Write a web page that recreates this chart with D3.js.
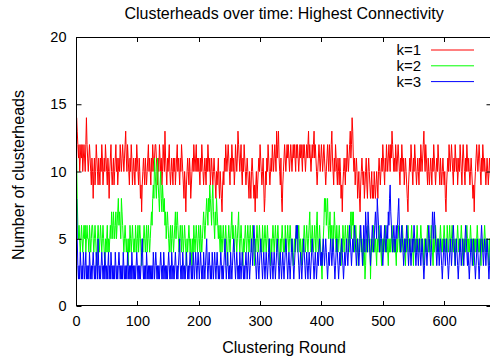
<!DOCTYPE html>
<html>
<head>
<meta charset="utf-8">
<script src="https://cdn.jsdelivr.net/npm/d3@7"></script>
<style>
  body { margin: 0; background: #fff; }
  text { font-family: "Liberation Sans", Arial, sans-serif; fill: #000; }
</style>
</head>
<body>
<svg id="chart" width="490" height="360"></svg>
<script>
// values, one per clustering round
const k1 = [
  9,14,13,12,11,12,10,11,12,11,12,10,11,12,11,10,12,14,12,11,10,11,12,11,10,9,11,10,8,10,11,9,10,12,11,10,9,11,10,9,
  11,10,12,11,9,10,11,10,12,11,10,9,11,10,8,10,11,12,10,9,10,11,9,10,11,12,10,11,9,10,11,10,12,11,10,11,12,11,10,11,
  12,13,11,10,12,11,10,9,11,10,12,11,9,10,11,10,9,11,10,12,11,10,9,11,10,8,9,7,9,10,11,10,9,11,10,9,10,11,12,10,
  11,10,9,11,10,12,11,10,11,12,12,11,10,9,11,10,12,11,10,11,9,10,12,11,10,13,11,10,9,11,10,11,12,10,9,10,11,10,9,11,
  10,11,9,10,11,12,10,11,10,9,11,10,12,11,10,9,8,10,9,7,9,10,11,10,9,11,10,8,9,10,11,10,12,11,10,11,12,10,11,10,
  11,10,9,11,10,12,11,10,9,10,11,10,9,11,10,12,11,10,11,9,10,11,10,9,10,11,10,9,8,10,9,10,11,9,8,10,9,8,7,9,
  10,9,11,10,12,11,10,11,12,11,10,9,11,10,12,11,10,11,9,10,12,11,10,11,13,12,11,10,11,12,10,9,11,10,12,11,10,9,10,11,
  10,9,8,10,9,8,10,11,10,9,8,9,7,9,10,8,9,10,11,10,12,11,10,9,10,11,9,7,8,10,9,11,10,12,11,10,9,10,11,10,
  12,11,10,11,12,11,10,13,11,12,13,11,10,9,11,8,7,9,10,11,12,11,10,11,12,11,12,11,10,11,12,11,10,11,12,11,12,11,10,12,
  11,12,11,10,11,12,11,12,11,10,12,11,12,11,10,11,12,11,12,13,11,12,11,10,11,12,11,12,13,11,12,11,10,9,10,11,12,11,10,11,
  12,11,10,11,12,11,10,9,10,11,12,11,10,12,11,10,12,13,11,10,9,11,10,12,11,10,9,11,10,9,11,10,8,9,7,9,10,11,10,9,
  11,10,12,11,10,11,12,13,11,12,14,13,11,10,11,9,10,11,10,8,9,10,8,7,9,10,11,10,9,10,8,9,10,11,9,8,10,11,10,9,
  8,9,10,8,9,8,10,9,8,9,10,9,8,10,11,10,9,10,11,10,12,11,10,9,11,10,12,11,10,11,12,11,10,12,11,13,12,11,10,11,
  10,12,11,10,11,12,11,10,9,11,10,12,11,10,11,9,10,11,10,9,8,7,9,10,11,10,12,11,10,9,11,10,12,11,10,9,10,11,10,9,
  11,10,12,11,10,11,12,13,11,10,12,11,10,9,11,10,9,10,11,10,9,11,10,12,11,10,9,10,11,10,12,11,10,9,11,10,9,10,11,10,
  9,10,8,7,9,10,11,10,12,11,10,11,12,11,10,9,11,10,12,11,10,11,9,10,11,10,12,11,10,9,11,12,11,10,9,11,10,12,11,10,
  11,10,9,10,11,10,9,8,9,7,9,10,11,12,11,10,11,12,11,10,9,11,10,12,11,10,11,10,9,10,11,10,9,10,11,10,9,10,11,10
];
const k2 = [
  6,11,8,6,5,6,5,4,5,6,5,4,5,6,5,6,4,5,6,5,5,4,6,5,4,5,6,6,5,4,5,6,5,4,3,5,6,5,4,5,
  6,5,4,5,6,5,4,3,5,4,5,6,4,5,4,5,6,5,7,6,5,7,6,5,6,7,5,6,7,8,6,7,6,5,8,7,6,5,4,5,
  6,5,4,5,4,3,5,4,6,5,4,5,6,5,4,5,4,6,5,4,5,6,4,5,6,5,4,3,5,4,5,6,5,4,5,6,4,5,6,5,
  4,5,6,7,6,8,9,8,11,10,9,8,10,11,9,8,7,9,10,8,7,9,8,7,8,6,7,5,6,7,6,5,4,5,6,4,5,6,5,4,
  5,6,7,5,6,7,6,5,4,5,6,5,4,6,5,4,5,6,5,4,3,5,4,5,6,5,4,5,4,3,5,4,6,5,4,5,6,5,4,5,
  6,5,4,6,5,4,5,6,7,6,5,6,7,8,7,6,8,7,9,8,7,6,8,9,7,6,5,7,6,8,7,6,5,6,5,4,6,5,4,5,
  6,5,4,5,6,5,4,3,5,6,5,4,5,6,7,5,6,5,4,5,6,5,4,5,6,7,5,4,5,6,5,4,3,5,4,5,6,5,4,5,
  6,5,4,5,6,5,4,5,6,5,4,3,5,4,5,6,5,4,5,6,5,4,5,4,6,5,4,5,6,5,4,5,6,5,4,5,4,3,5,4,
  5,6,5,4,5,6,5,4,5,6,5,4,3,5,4,5,6,5,4,5,4,6,5,4,5,6,5,4,5,6,5,4,5,4,3,4,5,4,5,6,
  5,4,5,6,5,4,5,4,3,5,4,5,6,5,4,5,6,5,4,5,6,7,5,4,5,6,5,4,5,6,5,4,6,7,5,4,5,6,5,4,
  3,2,4,5,6,8,7,8,6,7,8,6,5,6,7,5,6,5,4,6,5,7,6,5,4,6,5,4,5,6,5,4,3,5,4,6,5,4,5,6,
  5,4,5,6,5,4,5,6,7,5,7,6,7,5,4,5,6,5,4,5,3,4,5,6,5,4,5,4,3,5,4,2,3,5,4,5,6,5,4,5,
  2,4,5,4,5,6,5,4,5,4,3,5,4,5,6,4,5,4,3,5,4,5,4,5,6,5,4,5,4,3,5,4,5,4,5,6,5,4,5,4,
  5,4,3,5,4,5,6,5,4,5,4,5,6,5,4,5,4,3,5,4,5,6,5,4,5,4,5,6,5,4,3,5,4,5,4,5,6,5,4,5,
  4,5,6,5,4,5,4,3,5,4,5,4,5,6,5,4,5,4,5,6,5,4,3,5,4,5,6,5,4,5,4,5,4,5,6,5,4,5,4,5,
  6,5,4,5,4,6,5,4,5,6,5,4,5,6,5,4,5,4,3,5,4,5,6,5,4,5,4,5,6,5,4,3,5,4,5,4,5,6,5,4,
  5,4,5,6,5,4,5,4,3,5,4,5,4,5,6,5,4,5,4,5,3,5,4,5,4,5,6,5,4,5,4,5,4,3,5,4,5,4,5,4
];
const k3 = [
  1,8,5,3,2,3,2,4,3,2,3,2,4,3,2,3,4,2,3,2,3,2,4,3,2,3,2,3,4,3,2,3,2,4,3,2,5,3,2,3,
  2,3,4,3,2,3,2,4,3,2,3,2,3,4,2,3,2,4,3,2,3,2,3,2,4,3,2,3,2,3,4,3,2,3,2,3,2,4,3,2,
  3,2,3,2,4,3,2,3,2,3,2,4,3,2,3,2,3,2,3,4,3,2,3,2,3,2,3,4,5,3,2,3,2,3,2,4,3,2,3,2,
  3,2,3,2,3,2,4,3,2,3,4,3,2,3,2,3,2,3,4,3,2,3,2,4,3,2,3,2,3,2,3,4,3,2,3,2,4,3,2,3,
  2,3,4,3,2,3,2,3,4,5,3,2,3,2,4,3,2,3,2,3,4,3,2,3,2,3,4,3,2,3,2,4,3,2,3,4,3,2,3,4,
  3,2,3,4,3,2,3,2,4,3,2,3,4,5,3,2,3,4,3,2,3,2,4,3,2,3,4,3,2,3,4,3,2,3,2,3,4,3,2,3,
  2,3,4,5,3,2,3,4,3,2,3,2,4,3,2,3,4,5,4,3,2,3,4,3,2,3,2,4,3,2,3,4,3,2,3,2,3,4,3,2,
  3,4,3,2,3,4,5,4,3,5,6,5,4,3,2,3,4,3,2,3,4,5,4,3,2,3,4,3,2,3,4,3,2,3,4,5,3,2,3,4,
  3,2,3,4,3,2,3,4,5,4,3,2,3,4,3,2,3,4,3,2,3,4,5,4,3,2,3,4,3,2,3,4,5,4,3,2,3,4,5,6,
  5,6,4,3,2,3,4,3,2,3,4,5,4,3,2,3,4,3,2,3,4,3,2,3,4,5,4,3,2,3,4,3,2,3,4,3,4,5,4,3,
  4,3,4,5,4,3,4,5,4,3,2,3,4,3,4,5,4,3,4,5,4,3,2,3,4,5,4,3,2,3,4,3,4,5,4,3,2,3,4,3,
  4,5,4,3,4,5,6,5,4,3,4,5,4,5,6,5,4,3,4,5,4,3,4,5,6,5,4,3,4,6,5,4,7,6,5,4,7,6,5,4,
  3,4,5,6,5,4,5,6,7,6,5,8,7,6,5,4,5,6,5,4,3,4,5,6,5,4,5,6,5,7,6,8,9,7,6,5,4,5,6,5,
  4,5,6,5,6,7,8,6,5,4,5,6,5,4,3,4,5,4,5,6,5,4,3,4,5,4,3,4,5,4,5,6,5,4,3,4,5,4,3,4,
  5,4,3,4,5,4,3,2,3,4,5,4,3,4,5,6,5,4,3,4,5,7,6,5,7,6,5,4,3,4,5,4,3,4,5,4,3,2,3,4,
  5,4,3,4,5,4,3,2,3,4,5,4,3,4,5,6,5,4,3,4,5,4,3,2,3,4,5,4,3,4,5,4,3,4,5,6,5,4,3,4,
  3,2,3,4,5,4,3,4,5,4,3,2,3,4,5,4,3,2,3,4,5,6,5,4,3,4,5,4,3,4,5,4,3,2,3,4,5,4,3,4
];

const seriesNames = ['k=1', 'k=2', 'k=3'];
const seriesColors = ['#ff0000', '#00ff00', '#0000ff'];
const xTicks = [0, 100, 200, 300, 400, 500, 600];
const yTicks = [0, 5, 10, 15, 20];

const margin = { left: 76, top: 37 };
const width = 492 - margin.left;
const height = 306 - margin.top;

const svg = d3.select('#chart');

const x = d3.scaleLinear().domain([0, 678]).range([margin.left, margin.left + width]);
const y = d3.scaleLinear().domain([0, 20]).range([margin.top + height, margin.top]);

svg.append('defs').append('clipPath').attr('id', 'plot')
    .append('rect')
    .attr('x', margin.left).attr('y', margin.top)
    .attr('width', width).attr('height', height);

// ticks point inward on all four sides, like gnuplot
const tickLen = 5;
const axes = svg.append('g').attr('stroke', '#000').attr('stroke-width', 1);

axes.selectAll('line.xb').data(xTicks).join('line')
    .attr('x1', d => Math.round(x(d)) + 0.5).attr('x2', d => Math.round(x(d)) + 0.5)
    .attr('y1', y(0)).attr('y2', y(0) - tickLen);
axes.selectAll('line.xt').data(xTicks).join('line')
    .attr('x1', d => Math.round(x(d)) + 0.5).attr('x2', d => Math.round(x(d)) + 0.5)
    .attr('y1', y(20)).attr('y2', y(20) + tickLen);

const yAxisL = d3.axisLeft(y).tickValues(yTicks).tickSize(-tickLen).tickPadding(10);
const xAxisB = d3.axisBottom(x).tickValues(xTicks).tickSize(0).tickPadding(10);

const lines = svg.append('g').attr('clip-path', 'url(#plot)');
const line = d3.line().x((d, i) => x(i)).y(d => y(d));

[k1, k2, k3].forEach((vals, i) => {
    lines.append('path')
        .datum(vals)
        .attr('fill', 'none')
        .attr('stroke', seriesColors[i])
        .attr('stroke-width', 1)
        .attr('d', line);
});

const gy = svg.append('g').attr('transform', `translate(${margin.left + 0.5},0)`).call(yAxisL);
gy.select('.domain').remove();
gy.selectAll('.tick line').attr('stroke', '#000');
gy.selectAll('text').attr('font-size', 14.5).attr('font-family', 'Liberation Sans, Arial, sans-serif');

const gyr = svg.append('g').attr('transform', `translate(${margin.left + width - 0.5},0)`)
    .call(d3.axisRight(y).tickValues(yTicks).tickSize(-tickLen).tickFormat(''));
gyr.select('.domain').remove();

const gx = svg.append('g').attr('transform', `translate(0,${y(0)})`).call(xAxisB);
gx.select('.domain').remove();
gx.selectAll('text').attr('font-size', 14.5).attr('font-family', 'Liberation Sans, Arial, sans-serif');

// frame
svg.append('rect')
    .attr('x', margin.left + 0.5).attr('y', margin.top + 0.5)
    .attr('width', width - 1).attr('height', height - 1)
    .attr('fill', 'none').attr('stroke', '#000').attr('stroke-width', 1);

// legend
const legend = svg.append('g');
seriesNames.forEach((name, i) => {
    const ly = 50 + i * 15.8;
    legend.append('text')
        .attr('x', 421).attr('y', ly).attr('dy', '0.35em')
        .attr('text-anchor', 'end').attr('font-size', 15)
        .text(name);
    legend.append('line')
        .attr('x1', 431).attr('x2', 474)
        .attr('y1', ly).attr('y2', ly)
        .attr('stroke', seriesColors[i]).attr('stroke-width', 1);
});

svg.append('text')
    .attr('x', 284).attr('y', 13).attr('dy', '0.35em')
    .attr('text-anchor', 'middle').attr('font-size', 16)
    .text('Clusterheads over time: Highest Connectivity');

svg.append('text')
    .attr('x', 284).attr('y', 347).attr('dy', '0.35em')
    .attr('text-anchor', 'middle').attr('font-size', 16)
    .text('Clustering Round');

svg.append('text')
    .attr('transform', 'translate(18,175) rotate(-90)')
    .attr('dy', '0.35em')
    .attr('text-anchor', 'middle').attr('font-size', 16)
    .text('Number of clusterheads');
</script>
</body>
</html>
